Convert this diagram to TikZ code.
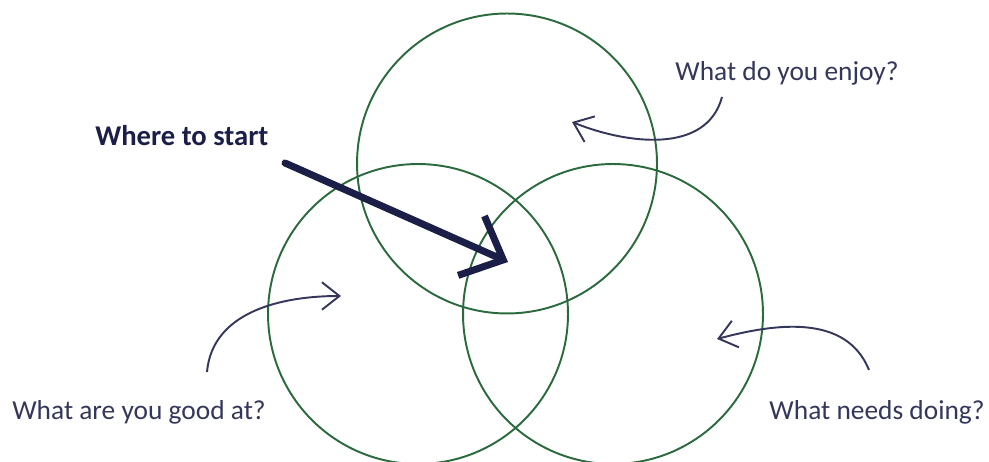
\documentclass[tikz,border=0pt]{standalone}
\usepackage{fontspec}
\setmainfont{Carlito}
\usepackage{xcolor}
\usepackage{tikz}
\usetikzlibrary{arrows.meta,positioning,calc}
\definecolor{vennGreen}{HTML}{2B6A3C}
\definecolor{inkNavy}{HTML}{1B1E47}
\definecolor{textNavy}{HTML}{34375A}

\begin{document}
\begin{tikzpicture}[x=0.02cm, y=0.02cm, font=\fontsize{15.6}{18}\selectfont,
  ring/.style={draw=vennGreen, line width=1.1pt, circle, minimum size=6cm, inner sep=0pt, outer sep=0pt},
  question/.style={text=textNavy, inner sep=0pt},
  pointer/.style={draw=textNavy, line width=1.1pt, -{Straight Barb[length=3.5mm, width=5.5mm]}},
  bigpointer/.style={draw=inkNavy, line width=4pt, line cap=round, -{Straight Barb[length=7mm, width=13mm]}}]
\useasboundingbox (0,0) rectangle (989,462);
% --- the three circles ---
\node[ring] (enjoy) at (507,298.5) {};
\node[ring] (good) at (418,148) {};
\node[ring] (needs) at (613,148) {};
% --- labels ---
\node[question, anchor=west, font=\fontsize{16.3}{18}\selectfont\bfseries, text=inkNavy] (startlbl) at (95,326) {Where to start};
\node[question, anchor=west] (enjoylbl) at (675,389) {What do you enjoy?};
\node[question, anchor=west] (goodlbl) at (12,50) {What are you good at?};
\node[question, anchor=east] (needslbl) at (985,50) {What needs doing?};
% --- arrow ends ---
\coordinate (startfrom) at (285,299);
\coordinate (startto) at (508,200);
\coordinate (enjoyfrom) at (722,365);
\coordinate (enjoyto) at (572,340);
\coordinate (goodfrom) at (207,90);
\coordinate (goodto) at (341,166);
\coordinate (needsfrom) at (869,92);
\coordinate (needsto) at (717,123);
% --- arrows ---
\draw[bigpointer] (startfrom) -- (startto);
\draw[pointer] (enjoyfrom) to[out=-105, in=-22] (enjoyto);
\draw[pointer] (goodfrom) to[out=85, in=180] (goodto);
\draw[pointer] (needsfrom) to[out=112, in=15] (needsto);
\end{tikzpicture}
\end{document}
